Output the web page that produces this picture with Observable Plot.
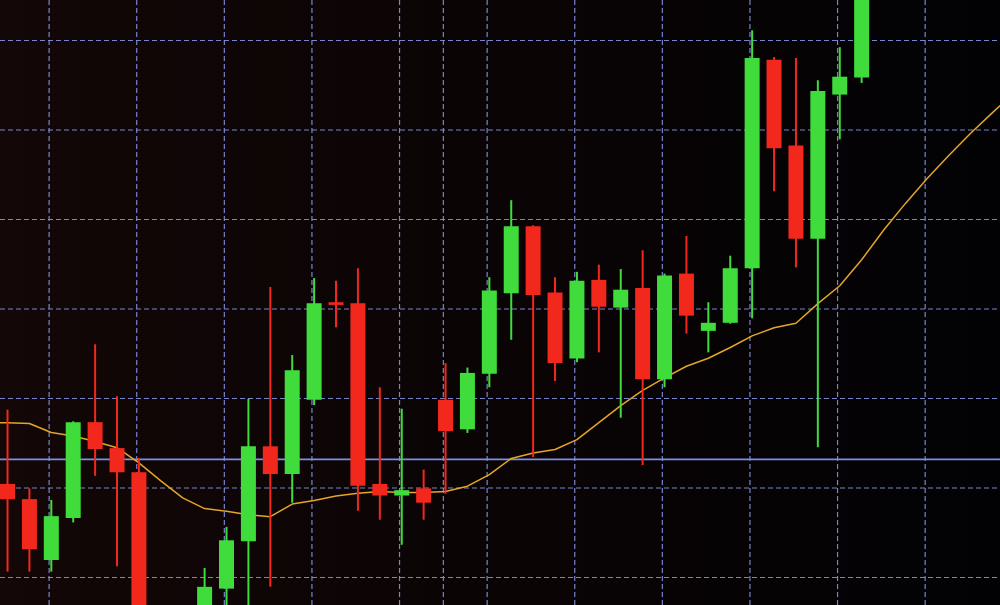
<!DOCTYPE html>
<html>
<head>
<meta charset="utf-8">
<script src="https://cdn.jsdelivr.net/npm/d3@7"></script>
<script src="https://cdn.jsdelivr.net/npm/@observablehq/plot@0.6"></script>
<style>
  html, body { margin: 0; padding: 0; background: #000; overflow: hidden; }
</style>
</head>
<body>
<div id="chart"></div>
<script>
// bar numbers of the candles (bars 7 and 8 fall below the visible window)
const bar   = [0, 1, 2, 3, 4, 5, 6, 9, 10, 11, 12, 13, 14, 15, 16, 17, 18, 19, 20,
               21, 22, 23, 24, 25, 26, 27, 28, 29, 30, 31, 32, 33, 34, 35, 36, 37, 38, 39];
const open  = [1.25104, 1.25087, 1.25019, 1.25066, 1.25173, 1.25144, 1.25117, 1.24930, 1.24987, 1.25040,
               1.25146, 1.25115, 1.25198, 1.25307, 1.25306, 1.25104, 1.25091, 1.25099, 1.25198, 1.25165,
               1.25227, 1.25317, 1.25392, 1.25318, 1.25244, 1.25332, 1.25301, 1.25323, 1.25221, 1.25339,
               1.25275, 1.25284, 1.25345, 1.25578, 1.25482, 1.25378, 1.25539, 1.25558];
const high  = [1.25187, 1.25099, 1.25086, 1.25174, 1.25260, 1.25202, 1.25133, 1.25010, 1.25056, 1.25199,
               1.25324, 1.25248, 1.25334, 1.25331, 1.25345, 1.25212, 1.25188, 1.25120, 1.25239, 1.25234,
               1.25335, 1.25421, 1.25393, 1.25335, 1.25341, 1.25349, 1.25344, 1.25365, 1.25339, 1.25381,
               1.25307, 1.25359, 1.25611, 1.25581, 1.25580, 1.25555, 1.25592, 1.25689];
const low   = [1.25006, 1.25006, 1.25006, 1.25061, 1.25113, 1.25012, 1.24902, 1.24918, 1.24952, 1.24958,
               1.24989, 1.25083, 1.25192, 1.25279, 1.25074, 1.25064, 1.25036, 1.25064, 1.25093, 1.25161,
               1.25212, 1.25265, 1.25134, 1.25219, 1.25240, 1.25251, 1.25178, 1.25125, 1.25212, 1.25272,
               1.25251, 1.25283, 1.25289, 1.25431, 1.25346, 1.25145, 1.25489, 1.25552];
const close = [1.25087, 1.25031, 1.25068, 1.25173, 1.25143, 1.25117, 1.24918, 1.24989, 1.25041, 1.25146,
               1.25115, 1.25231, 1.25306, 1.25304, 1.25102, 1.25091, 1.25097, 1.25083, 1.25163, 1.25228,
               1.25320, 1.25392, 1.25315, 1.25239, 1.25331, 1.25302, 1.25321, 1.25221, 1.25337, 1.25292,
               1.25284, 1.25345, 1.25580, 1.25479, 1.25378, 1.25543, 1.25559, 1.25667];

// moving average (shifted forward, runs past the last candle)
const maBar = [-1, 0, 1, 2, 3, 4, 5, 6, 7, 8, 9, 10, 11, 12, 13, 14, 15, 16, 17, 18, 19, 20, 21, 22, 23,
               24, 25, 26, 27, 28, 29, 30, 31, 32, 33, 34, 35, 36, 37, 38, 39, 40, 41, 42, 43, 44, 45, 46];
const ma    = [1.25173, 1.25173, 1.25172, 1.25162, 1.25158, 1.25152, 1.25145, 1.25128, 1.25108, 1.25089,
               1.25077, 1.25074, 1.25070, 1.25068, 1.25082, 1.25086, 1.25091, 1.25094, 1.25096, 1.25095,
               1.25095, 1.25096, 1.25102, 1.25115, 1.25133, 1.25139, 1.25143, 1.25154, 1.25173, 1.25192,
               1.25209, 1.25223, 1.25236, 1.25245, 1.25257, 1.25270, 1.25279, 1.25284, 1.25306, 1.25326,
               1.25355, 1.25388, 1.25418, 1.25446, 1.25472, 1.25497, 1.25520, 1.25542];

// grid ticks
const priceTicks = [1.250, 1.251, 1.252, 1.253, 1.254, 1.255, 1.256];
const barTicks   = [1.9, 5.9, 9.9, 13.9, 17.9, 21.9, 25.9, 29.9, 33.9, 37.9, 41.9];
const separator  = [19.9];
const level      = [1.25132];

const candles = bar.map((b, k) => ({bar: b, open: open[k], high: high[k], low: low[k], close: close[k]}));
const maLine = maBar.map((b, k) => ({bar: b, ma: ma[k]}));
const tone = d => d.close >= d.open ? "#3fdc3c" : "#f2281c";

const gridStyle = {stroke: "#8593e0", strokeWidth: 1.2, strokeDasharray: "5,3", strokeOpacity: 0.9};

const chart = Plot.plot({
  width: 1000,
  height: 605,
  margin: 0,
  style: {background: "linear-gradient(90deg, #130707 0%, #0b0405 45%, #020204 100%)"},
  x: {type: "linear", domain: [-0.32, 45.34], axis: null},
  y: {domain: [1.249687, 1.256447], axis: null},
  color: {type: "identity"},
  marks: [
    Plot.ruleY(priceTicks, gridStyle),
    Plot.ruleX(barTicks, gridStyle),
    Plot.ruleX(separator, gridStyle),
    Plot.ruleY(level, {stroke: "#7d8ee6", strokeWidth: 1.6}),
    Plot.line(maLine, {x: "bar", y: "ma", stroke: "#e3a626", strokeWidth: 1.5, clip: true}),
    // wicks
    Plot.ruleX(candles, {x: "bar", y1: "low", y2: "high", stroke: tone, strokeWidth: 2, clip: true}),
    // bodies
    Plot.ruleX(candles, {x: "bar", y1: "open", y2: "close", stroke: tone, strokeWidth: 15, clip: true})
  ]
});

d3.select("#chart").append(() => chart);
</script>
</body>
</html>
